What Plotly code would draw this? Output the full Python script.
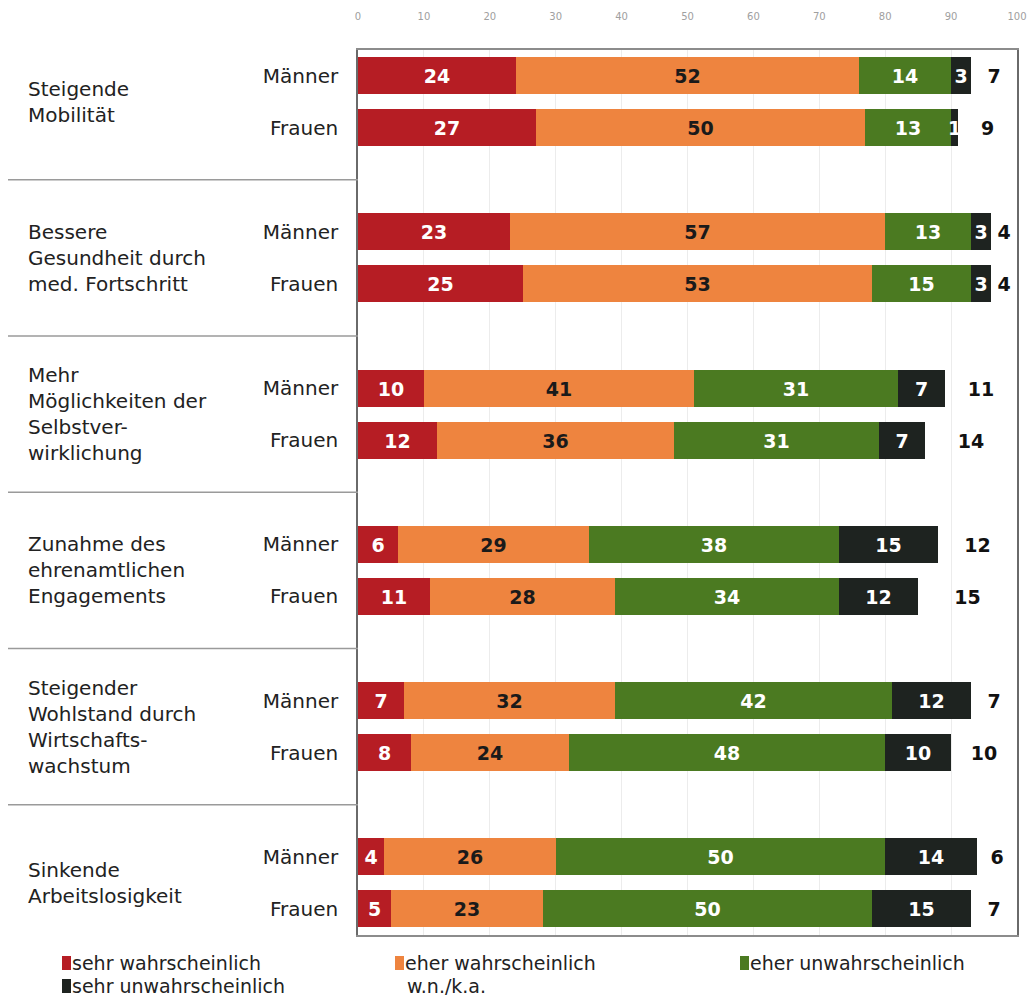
import plotly.graph_objects as go

# Survey results: expected developments, answers by gender (in percent)
themes = [
    "Steigende<br>Mobilität",
    "Bessere<br>Gesundheit durch<br>med. Fortschritt",
    "Mehr<br>Möglichkeiten der<br>Selbstver-<br>wirklichung",
    "Zunahme des<br>ehrenamtlichen<br>Engagements",
    "Steigender<br>Wohlstand durch<br>Wirtschafts-<br>wachstum",
    "Sinkende<br>Arbeitslosigkeit",
]
genders = ["Männer", "Frauen"]

# one value per (theme, gender), Männer first
sehr_wahrscheinlich = [24, 27, 23, 25, 10, 12, 6, 11, 7, 8, 4, 5]
eher_wahrscheinlich = [52, 50, 57, 53, 41, 36, 29, 28, 32, 24, 26, 23]
eher_unwahrscheinlich = [14, 13, 13, 15, 31, 31, 38, 34, 42, 48, 50, 50]
sehr_unwahrscheinlich = [3, 1, 3, 3, 7, 7, 15, 12, 12, 10, 14, 15]
wn_ka = [7, 9, 4, 4, 11, 14, 12, 15, 7, 10, 6, 7]

series_names = ["sehr wahrscheinlich", "eher wahrscheinlich",
                "eher unwahrscheinlich", "sehr unwahrscheinlich", "w.n./k.a."]
x_ticks = [0, 10, 20, 30, 40, 50, 60, 70, 80, 90, 100]

# ---- styling / layout ----
W, H = 1031, 1001
L, R, T, B = 358, 1017, 50, 935
FONT = "DejaVu Sans"
colors = ["#b61d24", "#ee843f", "#4b7a21", "#1e2320", "rgba(0,0,0,0)"]
text_colors = ["#ffffff", "#1a1a1a", "#ffffff", "#ffffff", "#111111"]


def px_x(px):
    return (px - L) / (R - L)


def px_y(py):
    return (B - py) / (B - T)


# rows: each theme takes three slots (Männer, Frauen, gap)
y_pos = [3 * i + j for i in range(len(themes)) for j in range(len(genders))]
y_text = [genders[j] for i in range(len(themes)) for j in range(len(genders))]

values = [sehr_wahrscheinlich, eher_wahrscheinlich, eher_unwahrscheinlich,
          sehr_unwahrscheinlich, wn_ka]

fig = go.Figure()
for name, vals, col, tcol in zip(series_names, values, colors, text_colors):
    fig.add_trace(go.Bar(
        x=vals, y=y_pos, orientation="h", name=name,
        marker=dict(color=col, line=dict(width=0)),
        width=0.71,
        text=[str(v) for v in vals],
        textposition="inside", insidetextanchor="middle", textangle=0,
        textfont=dict(family=FONT, size=19, color=tcol, weight="bold"),
        showlegend=False, hoverinfo="skip",
    ))

annotations = []
shapes = []

# theme labels on the left
for i, t in enumerate(themes):
    annotations.append(dict(
        x=px_x(26), xref="paper", y=3 * i + 0.5, yref="y",
        text=t, showarrow=False, xanchor="left", yanchor="middle", align="left",
        font=dict(family=FONT, size=20, color="#222222"),
    ))

# separators between the themes (left label column)
for i in range(len(themes) - 1):
    yy = 3 * i + 2
    shapes.append(dict(type="line", xref="paper", yref="y",
                       x0=px_x(8), x1=0, y0=yy, y1=yy,
                       line=dict(color="#9a9a9a", width=1.5)))

# legend
legend_items = [
    (62, 963, colors[0], series_names[0]),
    (395, 963, colors[1], series_names[1]),
    (740, 963, colors[2], series_names[2]),
    (62, 986, colors[3], series_names[3]),
    (None, 986, None, series_names[4]),
]
for x0, yc, col, label in legend_items:
    if col is not None:
        shapes.append(dict(type="rect", xref="paper", yref="paper",
                           x0=px_x(x0), x1=px_x(x0 + 9),
                           y0=px_y(yc + 7), y1=px_y(yc - 7),
                           fillcolor=col, line=dict(width=0)))
        tx = x0 + 8
    else:
        tx = 405
    annotations.append(dict(
        x=px_x(tx), xref="paper", y=px_y(yc), yref="paper",
        text=label, showarrow=False, xanchor="left", yanchor="middle",
        font=dict(family=FONT, size=19, color="#222222"),
    ))

fig.update_layout(
    width=W, height=H,
    margin=dict(l=L, r=W - R, t=T, b=H - B, pad=0, autoexpand=False),
    paper_bgcolor="white", plot_bgcolor="white",
    barmode="stack", bargap=0,
    uniformtext=dict(minsize=19, mode="show"),
    annotations=annotations, shapes=shapes,
    xaxis=dict(
        range=[0, 100], side="top", tickvals=x_ticks,
        ticktext=[str(v) for v in x_ticks],
        tickfont=dict(family=FONT, size=10, color="#a0a0a0"),
        ticks="", ticklabelstandoff=24, automargin=False,
        showgrid=True, gridcolor="#ececec", gridwidth=1,
        zeroline=False, showline=True, mirror=True,
        linecolor="#8c8c8c", linewidth=1.5, fixedrange=True,
    ),
    yaxis=dict(
        range=[16.5, -0.49], tickvals=y_pos, ticktext=y_text,
        tickfont=dict(family=FONT, size=20, color="#222222"),
        ticks="", ticklabelstandoff=14, automargin=False,
        showgrid=False, zeroline=False, showline=True, mirror=True,
        linecolor="#6a6a6a", linewidth=1.5, fixedrange=True,
    ),
)

fig.write_html("out.html")
